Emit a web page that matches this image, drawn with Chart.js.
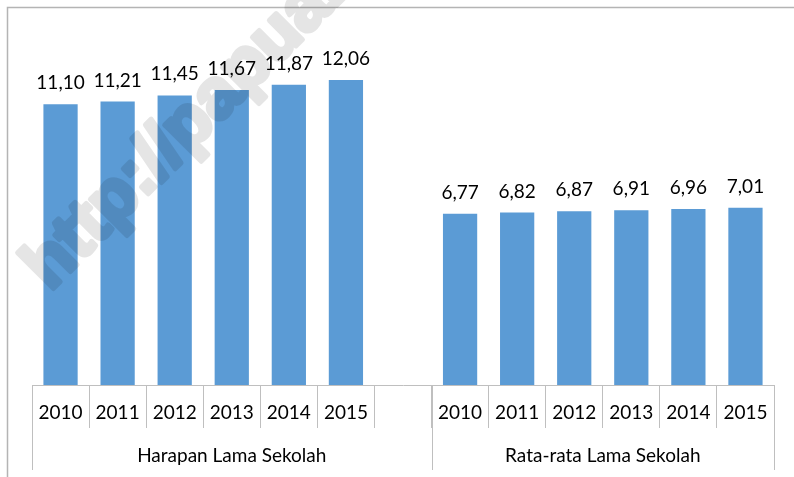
<!DOCTYPE html>
<html>
<head>
<meta charset="utf-8">
<script src="https://cdn.jsdelivr.net/npm/chart.js@4"></script>
<style>
  html, body { margin: 0; padding: 0; background: #fff; }
  #wrap { width: 794px; height: 477px; }
</style>
</head>
<body>
<div id="wrap"><canvas id="myChart"></canvas></div>
<script>
// data
const years = ["2010", "2011", "2012", "2013", "2014", "2015"];
const groupNames = ["Harapan Lama Sekolah", "Rata-rata Lama Sekolah"];
const harapanLama = [11.10, 11.21, 11.45, 11.67, 11.87, 12.06];
const rataRataLama = [6.77, 6.82, 6.87, 6.91, 6.96, 7.01];

// one empty slot between the two groups
const labels = [...years, "", ...years];
const values = [...harapanLama, null, ...rataRataLama];

const FONT = "Lato";
const TEXT = "#000";
const LINE = "#bfbfbf";

// frame (left + top edge only, the image is cropped)
const framePlugin = {
    id: "frame",
    beforeDraw(chart) {
        const ctx = chart.ctx;
        ctx.save();
        ctx.strokeStyle = "#b4b4b4";
        ctx.lineWidth = 1.5;
        ctx.beginPath();
        ctx.moveTo(7.5, chart.height);
        ctx.lineTo(7.5, 7.5);
        ctx.lineTo(chart.width, 7.5);
        ctx.stroke();
        ctx.restore();
    }
};

// value labels above the bars
const valueLabels = {
    id: "valueLabels",
    afterDatasetsDraw(chart) {
        const ctx = chart.ctx;
        const meta = chart.getDatasetMeta(0);
        ctx.save();
        ctx.font = `19px ${FONT}`;
        ctx.fillStyle = TEXT;
        ctx.textAlign = "center";
        ctx.textBaseline = "alphabetic";
        meta.data.forEach((bar, i) => {
            const v = values[i];
            if (v === null) return;
            ctx.fillText(v.toFixed(2).replace(".", ","), bar.x, bar.y - 15);
        });
        ctx.restore();
    }
};

// second level of the category axis: group names and long separators
const groupAxis = {
    id: "groupAxis",
    afterDraw(chart) {
        const ctx = chart.ctx;
        const x = chart.scales.x;
        const slot = x.getPixelForValue(1) - x.getPixelForValue(0);
        const edge = i => x.getPixelForValue(i) - slot / 2;
        const bottom = chart.chartArea.bottom;
        const groups = [[0, 7], [7, 13]];

        ctx.save();
        ctx.strokeStyle = LINE;
        ctx.lineWidth = 1;
        [0, 7, 13].forEach(i => {
            const px = Math.round(edge(i)) + 0.5;
            ctx.beginPath();
            ctx.moveTo(px, bottom);
            ctx.lineTo(px, bottom + 85);
            ctx.stroke();
        });

        ctx.font = `19px ${FONT}`;
        ctx.fillStyle = TEXT;
        ctx.textAlign = "center";
        ctx.textBaseline = "middle";
        groups.forEach(([a, b], g) => {
            ctx.fillText(groupNames[g], (edge(a) + edge(b)) / 2, bottom + 71);
        });
        ctx.restore();
    }
};

// faint watermark across the picture (drawn opaque offscreen, then blended once)
const watermark = {
    id: "watermark",
    afterDraw(chart) {
        const off = document.createElement("canvas");
        off.width = chart.width;
        off.height = chart.height;
        const o = off.getContext("2d");
        o.translate(50, 292);
        o.rotate(-45 * Math.PI / 180);
        o.font = "bold 70px 'Liberation Sans'";
        o.fillStyle = "#000";
        o.strokeStyle = "#000";
        o.lineWidth = 5;
        o.lineJoin = "round";
        o.fillText("http://papua.bps.go.id", 0, 0);
        o.strokeText("http://papua.bps.go.id", 0, 0);

        const ctx = chart.ctx;
        ctx.save();
        ctx.globalAlpha = 0.1;
        ctx.drawImage(off, 0, 0);
        ctx.restore();
    }
};

document.addEventListener("DOMContentLoaded", function () {
    const ctx = document.getElementById("myChart").getContext("2d");

    new Chart(ctx, {
        type: "bar",
        data: {
            labels: labels,
            datasets: [{
                data: values,
                backgroundColor: "#5b9bd5",
                categoryPercentage: 1.0,
                barPercentage: 0.6
            }]
        },
        options: {
            responsive: true,
            maintainAspectRatio: false,
            animation: false,
            layout: { padding: { left: 32, right: 20, top: 31, bottom: 0 } },
            plugins: {
                legend: { display: false },
                tooltip: { enabled: false }
            },
            scales: {
                y: {
                    display: false,
                    min: 0,
                    max: 14
                },
                x: {
                    afterFit: scale => { scale.height = 92; },
                    grid: {
                        offset: true,
                        drawOnChartArea: false,
                        drawTicks: true,
                        tickLength: 43,
                        color: LINE
                    },
                    border: { display: true, color: LINE },
                    ticks: {
                        padding: -27,
                        color: TEXT,
                        font: { family: FONT, size: 19 },
                        maxRotation: 0,
                        autoSkip: false
                    }
                }
            }
        },
        plugins: [framePlugin, valueLabels, groupAxis, watermark]
    });
});
</script>
</body>
</html>
